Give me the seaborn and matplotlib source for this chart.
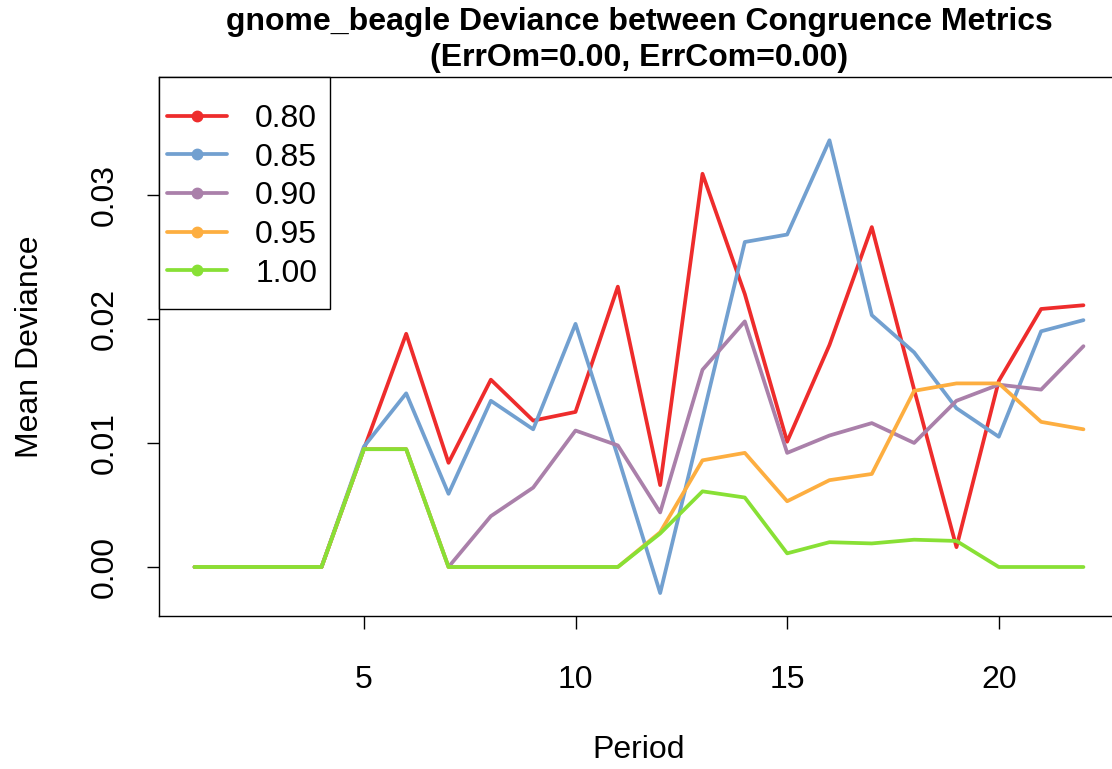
import numpy as np
import pandas as pd
import seaborn as sns
import matplotlib
matplotlib.use("Agg")
import matplotlib.pyplot as plt
from matplotlib.lines import Line2D
from matplotlib.patches import Rectangle

# ---------------- DATA ----------------
period = list(range(1, 23))
cutoffs = ["0.80", "0.85", "0.90", "0.95", "1.00"]
dev_080 = [0, 0, 0, 0, 0.0095, 0.0188, 0.0084, 0.0151, 0.0118, 0.0125, 0.0226,
           0.0066, 0.0317, 0.0220, 0.0101, 0.0179, 0.0274, 0.0143, 0.0016, 0.0150,
           0.0208, 0.0211]
dev_085 = [0, 0, 0, 0, 0.0097, 0.0140, 0.0059, 0.0134, 0.0111, 0.0196, 0.0089,
           -0.0021, 0.0120, 0.0262, 0.0268, 0.0344, 0.0203, 0.0173, 0.0128, 0.0105,
           0.0190, 0.0199]
dev_090 = [0, 0, 0, 0, 0.0095, 0.0095, 0, 0.0041, 0.0064, 0.0110, 0.0098,
           0.0044, 0.0159, 0.0198, 0.0092, 0.0106, 0.0116, 0.0100, 0.0134, 0.0147,
           0.0143, 0.0178]
dev_095 = [0, 0, 0, 0, 0.0095, 0.0095, 0, 0, 0, 0, 0,
           0.0028, 0.0086, 0.0092, 0.0053, 0.0070, 0.0075, 0.0142, 0.0148, 0.0148,
           0.0117, 0.0111]
dev_100 = [0, 0, 0, 0, 0.0095, 0.0095, 0, 0, 0, 0, 0,
           0.0027, 0.0061, 0.0056, 0.0011, 0.0020, 0.0019, 0.0022, 0.0021, 0,
           0, 0]
colors = ["#EE2C2C", "#72A0D0", "#AA80AA", "#FDAE40", "#88E035"]

series = [dev_080, dev_085, dev_090, dev_095, dev_100]
df = pd.concat([pd.DataFrame({"period": period, "dev": s, "cutoff": c})
                for s, c in zip(series, cutoffs)], ignore_index=True)

# ---------------- PLOT ----------------
sns.set_style("ticks")
plt.rcParams['font.family'] = ['Liberation Sans', 'DejaVu Sans']
plt.rcParams['text.color'] = 'black'
plt.rcParams['axes.labelcolor'] = 'black'

FS = 23
fig = plt.figure(figsize=(11.12, 7.69), dpi=100)
# plot box in pixels: x 159..1119, y 77..616
ax = fig.add_axes([159 / 1112, 1 - 616 / 769, 960 / 1112, 539 / 769])

sns.lineplot(data=df, x="period", y="dev", hue="cutoff", hue_order=cutoffs,
             palette=dict(zip(cutoffs, colors)), linewidth=2.7, estimator=None,
             sort=False, legend=False, ax=ax)

ax.set_xlim(0.16, 22.84)
ax.set_ylim(-0.00395, 0.0395)
ax.set_xticks([5, 10, 15, 20])
ax.set_yticks([0, 0.01, 0.02, 0.03])
ax.set_yticklabels(["0.00", "0.01", "0.02", "0.03"], rotation=90, va="center")
ax.tick_params(axis="both", direction="out", length=9, width=1, color="black",
               labelsize=FS, labelcolor="black")
ax.tick_params(axis="x", pad=26.5)
ax.tick_params(axis="y", pad=19)
for sp in ax.spines.values():
    sp.set_visible(True)
    sp.set_color("black")
    sp.set_linewidth(1.0)

ax.set_xlabel("Period", fontsize=FS)
ax.set_ylabel("Mean Deviance", fontsize=FS)
ax.xaxis.set_label_coords(0.5, (616 - 750) / 539)
ax.xaxis.label.set_va("center")
ax.yaxis.set_label_coords((30 - 159) / 960, 0.5)
ax.yaxis.label.set_va("center")

# legend (R style box drawn separately)
handles = [Line2D([], [], color=c, lw=2.7, marker="o", markersize=7.5) for c in colors]
leg = ax.legend(handles, cutoffs, loc="upper left",
                bbox_to_anchor=((167 - 159) / 960, (616 - 104) / 539),
                borderaxespad=0, borderpad=0, fontsize=FS, frameon=False,
                handlelength=1.88, handletextpad=0.88, labelspacing=0.27)
ax.add_patch(Rectangle((0, (616 - 309) / 539), (330 - 159) / 960, (309 - 77) / 539,
                       transform=ax.transAxes, fill=True, facecolor="white",
                       edgecolor="black", linewidth=1.0, zorder=4, clip_on=False))
leg.set_zorder(5)

fig.text(639 / 1112, 1 - 22 / 769, "gnome_beagle Deviance between Congruence Metrics",
         ha="center", va="center", fontsize=FS, fontweight="bold")
fig.text(639 / 1112, 1 - 58 / 769, "(ErrOm=0.00, ErrCom=0.00)",
         ha="center", va="center", fontsize=FS, fontweight="bold")

fig.savefig("out.png", dpi=100)
